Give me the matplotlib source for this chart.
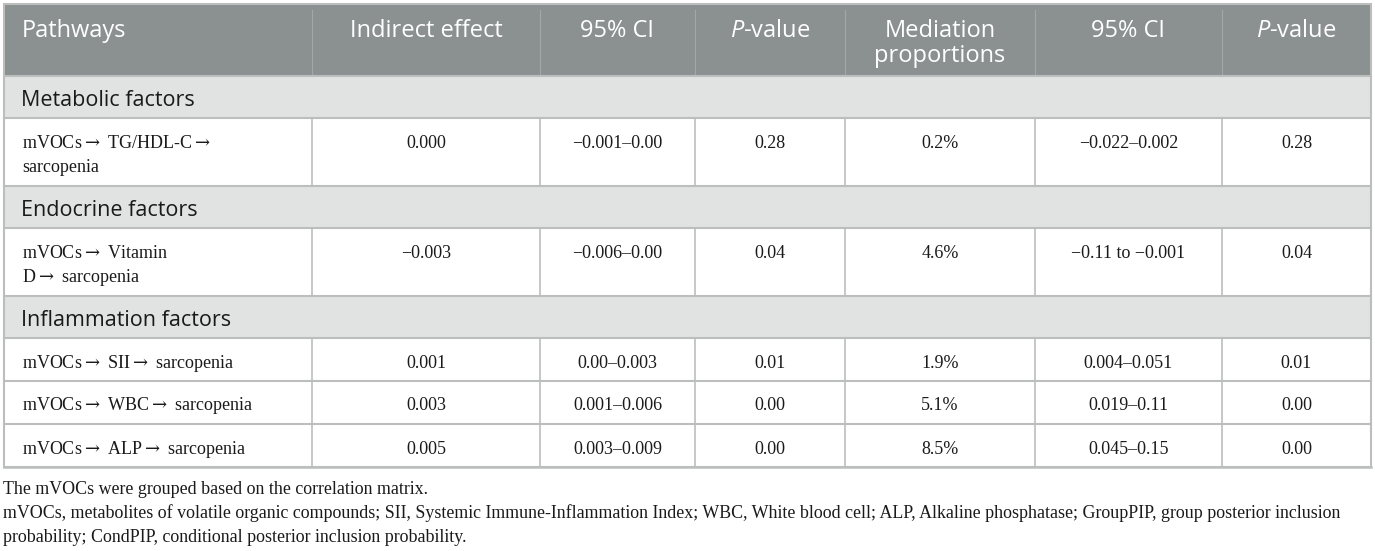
import matplotlib
matplotlib.use("Agg")
import matplotlib.pyplot as plt
from matplotlib.patches import Rectangle

# Table content
headers = ["Pathways", "Indirect effect", "95% CI", r"$\mathit{P}$-value",
           "Mediation\nproportions", "95% CI", r"$\mathit{P}$-value"]
group_names = ["Metabolic factors", "Endocrine factors", "Inflammation factors"]
row_group = [0, 1, 2, 2, 2]
pathways = [r"mVOCs$\rightarrow$ TG/HDL-C$\rightarrow$" + "\nsarcopenia",
            r"mVOCs$\rightarrow$ Vitamin" + "\n" + r"D$\rightarrow$ sarcopenia",
            r"mVOCs$\rightarrow$ SII$\rightarrow$ sarcopenia",
            r"mVOCs$\rightarrow$ WBC$\rightarrow$ sarcopenia",
            r"mVOCs$\rightarrow$ ALP$\rightarrow$ sarcopenia"]
indirect = ["0.000", "\u22120.003", "0.001", "0.003", "0.005"]
ci_indirect = ["\u22120.001\u20130.00", "\u22120.006\u20130.00", "0.00\u20130.003",
               "0.001\u20130.006", "0.003\u20130.009"]
p_indirect = ["0.28", "0.04", "0.01", "0.00", "0.00"]
mediation = ["0.2%", "4.6%", "1.9%", "5.1%", "8.5%"]
ci_mediation = ["\u22120.022\u20130.002", "\u22120.11 to \u22120.001", "0.004\u20130.051",
                "0.019\u20130.11", "0.045\u20130.15"]
p_mediation = ["0.28", "0.04", "0.01", "0.00", "0.00"]
footnotes = [
    "The mVOCs were grouped based on the correlation matrix.",
    "mVOCs, metabolites of volatile organic compounds; SII, Systemic Immune-Inflammation Index; WBC, White blood cell; ALP, Alkaline phosphatase; GroupPIP, group posterior inclusion",
    "probability; CondPIP, conditional posterior inclusion probability.",
]

# layout (pixels)
W, H = 1375, 551
col_edges = [4, 312, 540, 695, 845, 1035, 1222, 1371]
top = 4
header_h = 72
group_h = 42
line_h = 25
single_h = 43

plt.rcParams["mathtext.fontset"] = "custom"
plt.rcParams["mathtext.it"] = "Open Sans:italic"
plt.rcParams["mathtext.rm"] = "Open Sans"

sans = ["Open Sans", "DejaVu Sans"]
serif = ["Liberation Serif", "DejaVu Serif"]

fig = plt.figure(figsize=(W / 100, H / 100), dpi=100)
ax = fig.add_axes([0, 0, 1, 1])
ax.set_xlim(0, W)
ax.set_ylim(H, 0)
ax.axis("off")

header_bg = "#8b9091"
group_bg = "#e1e2e2"
grid = "#bcbebe"
ink = "#1a1a1a"
x0, x1 = col_edges[0], col_edges[-1]

# header
ax.add_patch(Rectangle((x0, top), x1 - x0, header_h, facecolor=header_bg, edgecolor="none"))
for i, h in enumerate(headers):
    for j, ln in enumerate(h.split("\n")):
        y = top + 27 + 25 * j
        if i == 0:
            ax.text(col_edges[0] + 18, y, ln, ha="left", va="center", color="white",
                    fontsize=17, family=sans, math_fontfamily="custom")
        else:
            xc = (col_edges[i] + col_edges[i + 1]) / 2
            ax.text(xc, y, ln, ha="center", va="center", color="white",
                    fontsize=17, family=sans, math_fontfamily="custom")
for xe in col_edges[1:-1]:
    ax.plot([xe, xe], [top + 6, top + header_h], color="#a3a7a8", lw=0.8)

y = top + header_h
prev_group = None
cols = [pathways, indirect, ci_indirect, p_indirect, mediation, ci_mediation, p_mediation]
for r in range(len(pathways)):
    g = row_group[r]
    if g != prev_group:
        ax.add_patch(Rectangle((x0, y), x1 - x0, group_h, facecolor=group_bg, edgecolor="none"))
        ax.text(col_edges[0] + 17, y + group_h / 2 + 3, group_names[g], ha="left", va="center",
                fontsize=15.5, family=sans, color=ink)
        ax.plot([x0, x1], [y, y], color=grid, lw=1.5)
        y += group_h
        prev_group = g
    nlines = pathways[r].count("\n") + 1
    rh = single_h if nlines == 1 else 18 + line_h * nlines
    ax.plot([x0, x1], [y, y], color=grid, lw=1.5)
    for c, vals in enumerate(cols):
        for j, ln in enumerate(vals[r].split("\n")):
            ty = y + 25 + line_h * j
            if c == 0:
                ax.text(col_edges[0] + 18, ty, ln, ha="left", va="center",
                        fontsize=13, family=serif, color=ink,
                        math_fontfamily="dejavuserif")
            else:
                xc = (col_edges[c] + col_edges[c + 1]) / 2
                ax.text(xc, ty, ln, ha="center", va="center",
                        fontsize=13, family=serif, color=ink)
    for xe in col_edges[1:-1]:
        ax.plot([xe, xe], [y, y + rh], color=grid, lw=1.2)
    y += rh
bottom = y
ax.plot([x0, x1], [bottom, bottom], color=grid, lw=1.8)

# outer border
ax.add_patch(Rectangle((x0, top), x1 - x0, bottom - top, facecolor="none",
                       edgecolor=grid, lw=1.5))

for k, note in enumerate(footnotes):
    ax.text(3, bottom + 22 + 24.5 * k, note, ha="left", va="center",
            fontsize=12.9, family=serif, color=ink)

fig.savefig("out.png", dpi=100)
